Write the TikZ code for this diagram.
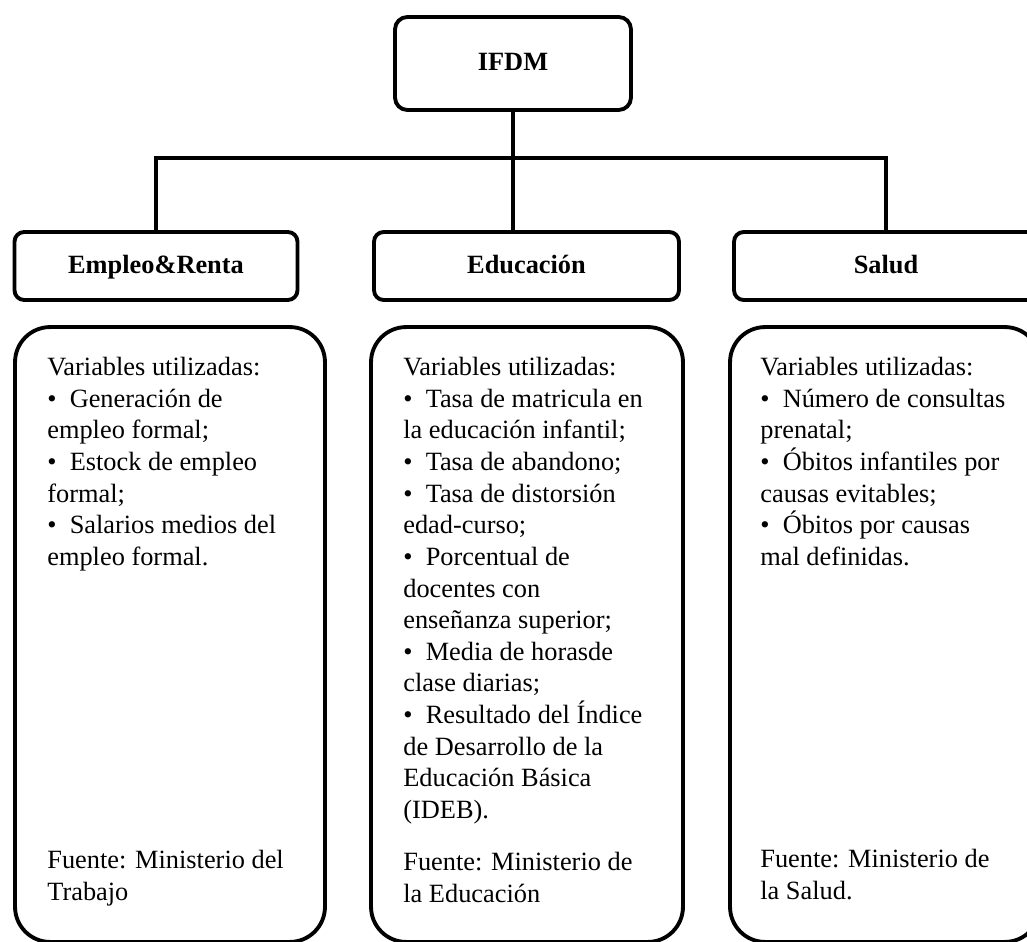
\documentclass[tikz,border=0pt]{standalone}
\usepackage{fontspec}
\setmainfont{Liberation Serif}
\usepackage{tikz}
\usetikzlibrary{positioning}
\tikzset{link/.style={line width=2.2pt},
 every node/.style={font=\fontsize{15}{18}\selectfont}}

\begin{document}
\begin{tikzpicture}[x=0.02cm,y=-0.02cm,
 head/.style={draw,line width=2.2pt,rounded corners=5.5pt,minimum height=1.36cm,text height=2.2ex,text depth=.4ex,font=\fontsize{15}{18}\selectfont\bfseries},
 panel/.style={draw,line width=2.2pt,rounded corners=20pt,minimum width=6.2cm,minimum height=12.3cm},
 txt/.style={anchor=north west,inner sep=0pt,align=left}]
\useasboundingbox (0,0) rectangle (1027,942);
\clip (0,0) rectangle (1027,942);
\node[head,minimum width=4.72cm,minimum height=1.86cm,rounded corners=7pt] (IF) at (513,63.5) {IFDM};
\node[head,minimum width=5.66cm] (ER) at (156,266) {Empleo\&Renta};
\node[head,minimum width=6.1cm] (ED) at (526.5,266) {Educación};
\node[head,minimum width=6.08cm] (SA) at (886,266) {Salud};
\coordinate (bus) at (513,158);
\draw[link] (IF.south) -- (IF.south |- ED.north);
\draw[link] (ER.north) |- (bus) -| (SA.north);
\node[panel] (ERv) at (170,634.5) {};
\node[panel,minimum width=6.24cm] (EDv) at (527,634.5) {};
\node[panel] (SAv) at (885,634.5) {};
\node[txt] (ERt) at (47,357) {Variables utilizadas:\\
 \textbullet~~Generación de\\empleo formal;\\
 \textbullet~~Estock de empleo\\formal;\\
 \textbullet~~Salarios medios del\\empleo formal.};
\node[txt] (EDt) at (403,357) {Variables utilizadas:\\
 \textbullet~~Tasa de matricula en\\la educación infantil;\\
 \textbullet~~Tasa de abandono;\\
 \textbullet~~Tasa de distorsión\\edad-curso;\\
 \textbullet~~Porcentual de\\docentes con\\enseñanza superior;\\
 \textbullet~~Media de horasde\\clase diarias;\\
 \textbullet~~Resultado del Índice\\de Desarrollo de la\\Educación Básica\\(IDEB).};
\node[txt] (SAt) at (760,357) {Variables utilizadas:\\
 \textbullet~~Número de consultas\\prenatal;\\
 \textbullet~~Óbitos infantiles por\\causas evitables;\\
 \textbullet~~Óbitos por causas\\mal definidas.};
\node[txt] (ERf) at (47,850) {Fuente: Ministerio del\\Trabajo};
\node[txt] (EDf) at (403,852) {Fuente: Ministerio de\\la Educación};
\node[txt] (SAf) at (760,849) {Fuente: Ministerio de\\la Salud.};
\end{tikzpicture}
\end{document}
